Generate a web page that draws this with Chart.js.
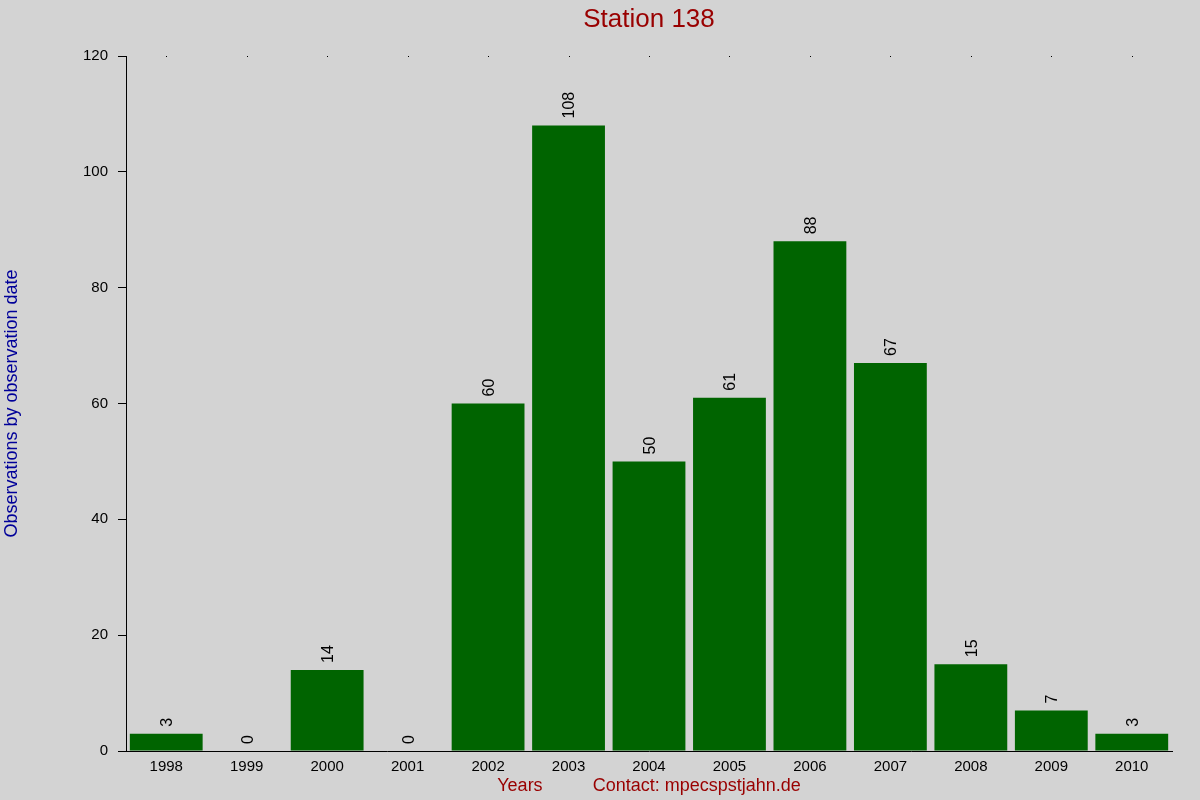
<!DOCTYPE html>
<html>
<head>
<meta charset="utf-8">
<script src="https://cdn.jsdelivr.net/npm/chart.js@4"></script>
<style>
  html, body { margin: 0; padding: 0; background: #d3d3d3; }
  #wrap { width: 1200px; height: 800px; }
</style>
</head>
<body>
<div id="wrap"><canvas id="c" width="1200" height="800"></canvas></div>
<script>
const years = ['1998','1999','2000','2001','2002','2003','2004','2005','2006','2007','2008','2009','2010'];
const observations = [3, 0, 14, 0, 60, 108, 50, 61, 88, 67, 15, 7, 3];
const yTicks = [0, 20, 40, 60, 80, 100, 120];

const FONT = "'Liberation Sans', Arial, sans-serif";

const bgPlugin = {
  id: 'bg',
  beforeDraw(chart) {
    const ctx = chart.ctx;
    ctx.save();
    ctx.fillStyle = '#d3d3d3';
    ctx.fillRect(0, 0, chart.width, chart.height);
    ctx.restore();
  }
};

const extrasPlugin = {
  id: 'extras',
  afterDatasetsDraw(chart) {
    const ctx = chart.ctx;
    const meta = chart.getDatasetMeta(0);
    const xs = chart.scales.x;
    const top = chart.chartArea.top;
    ctx.save();
    // small top tick dots
    ctx.fillStyle = '#000';
    years.forEach((y, i) => {
      const px = Math.round(xs.getPixelForValue(i));
      ctx.fillRect(px, Math.round(top), 1, 1);
    });
    // value labels
    ctx.font = '16px ' + FONT;
    ctx.fillStyle = '#000';
    ctx.textAlign = 'left';
    ctx.textBaseline = 'middle';
    meta.data.forEach((bar, i) => {
      ctx.save();
      ctx.translate(bar.x + 1.5, bar.y - 7);
      ctx.rotate(-Math.PI / 2);
      ctx.fillText(String(observations[i]), 0, 0);
      ctx.restore();
    });
    ctx.restore();
  }
};

new Chart(document.getElementById('c'), {
  type: 'bar',
  data: {
    labels: years,
    datasets: [{
      data: observations,
      backgroundColor: '#006400',
      borderWidth: 0,
      inflateAmount: 0,
      barPercentage: 0.905,
      categoryPercentage: 1.0
    }]
  },
  options: {
    responsive: false,
    animation: false,
    devicePixelRatio: 1,
    layout: { padding: { top: 0, right: 28, bottom: 0, left: 0 } },
    plugins: {
      legend: { display: false },
      tooltip: { enabled: false },
      title: {
        display: true,
        fullSize: false,
        text: 'Station 138',
        color: '#990000',
        font: { family: FONT, size: 26, weight: 'normal', lineHeight: 1.2 },
        padding: { top: 4, bottom: 20.8 }
      }
    },
    scales: {
      x: {
        grid: { display: false, drawTicks: false },
        border: { display: true, color: '#000', width: 1 },
        ticks: {
          color: '#000',
          font: { family: FONT, size: 15 },
          padding: 7,
          maxRotation: 0,
          autoSkip: false
        },
        title: {
          display: true,
          text: 'Years          Contact: mpecspstjahn.de',
          color: '#990000',
          font: { family: FONT, size: 18, lineHeight: 1.2 },
          padding: { top: 0, bottom: 3 }
        },
        afterFit(scale) { scale.height = 49; }
      },
      y: {
        min: 0,
        max: 120,
        afterBuildTicks(scale) { scale.ticks = yTicks.map(v => ({ value: v })); },
        grid: { drawOnChartArea: false, drawTicks: true, tickLength: 8, color: '#000' },
        border: { display: true, color: '#000', width: 1 },
        ticks: {
          color: '#000',
          font: { family: FONT, size: 15 },
          padding: 10
        },
        title: {
          display: true,
          text: 'Observations by observation date',
          color: '#000099',
          font: { family: FONT, size: 18, lineHeight: 1.2 },
          padding: { top: 1, bottom: 0 }
        },
        afterFit(scale) { scale.width = 126; }
      }
    }
  },
  plugins: [bgPlugin, extrasPlugin]
});
</script>
</body>
</html>
